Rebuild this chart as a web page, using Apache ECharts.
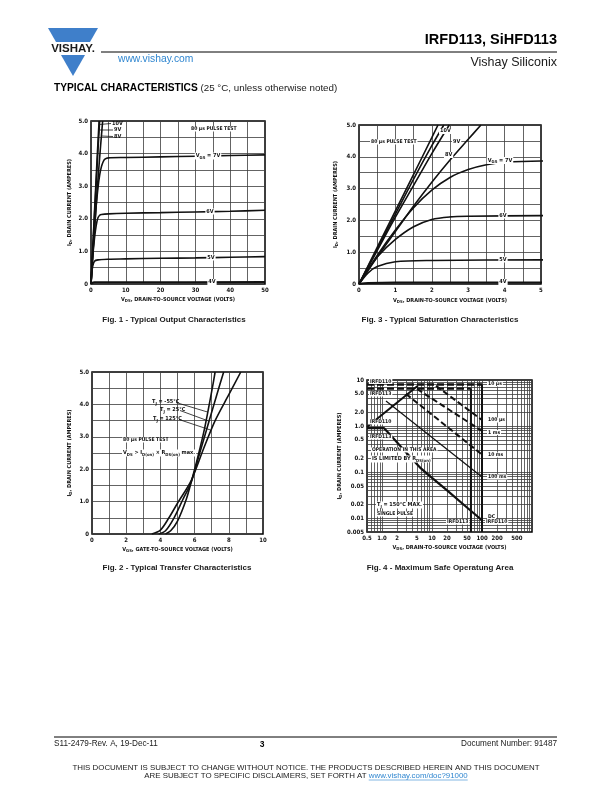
<!DOCTYPE html>
<html>
<head>
<meta charset="utf-8">
<script src="https://cdn.jsdelivr.net/npm/echarts@6/dist/echarts.min.js"></script>
<style>
  html, body { margin: 0; padding: 0; background: #fff; }
  #page { width: 612px; height: 792px; }
</style>
</head>
<body>
<div id="page"></div>
<script>
/* global echarts */

// ---- I_D vs V_DS (shared by Fig. 1, 0-50 V, and Fig. 3, 0-5 V) ----
const IDS_10V = [[0, 0], [0.5, 1.1], [1, 2.2], [1.5, 3.3], [2, 4.35], [2.33, 5.0]];
const IDS_9V  = [[0, 0], [0.5, 1.05], [1, 2.1], [1.5, 3.1], [2, 4.1], [2.48, 5.0]];
const IDS_8V  = [[0, 0], [0.5, 0.85], [1, 1.65], [1.5, 2.45], [2, 3.2], [2.5, 3.9], [3, 4.55], [3.35, 5.0]];
const IDS_7V  = [[0, 0], [0.5, 0.9], [1, 1.7], [1.5, 2.4], [2, 2.95], [2.5, 3.35], [3, 3.6], [3.5, 3.75], [4, 3.83], [5, 3.87], [10, 3.88], [20, 3.9], [30, 3.92], [40, 3.94], [50, 3.96]];
const IDS_6V  = [[0, 0], [0.25, 0.45], [0.5, 0.85], [1, 1.4], [1.5, 1.8], [2, 2.03], [2.5, 2.11], [3, 2.13], [5, 2.15], [10, 2.17], [20, 2.19], [30, 2.21], [40, 2.23], [50, 2.26]];
const IDS_5V  = [[0, 0], [0.25, 0.35], [0.5, 0.55], [1, 0.7], [2, 0.74], [5, 0.76], [10, 0.77], [20, 0.79], [30, 0.8], [40, 0.82], [50, 0.84]];
const IDS_4V  = [[0, 0], [0.25, 0.03], [1, 0.05], [10, 0.05], [50, 0.06]];
// leftmost line of Fig. 3 (its label is cut by the frame in the original)
const IDS_TOP = [[0, 0], [0.5, 1.15], [1, 2.3], [1.5, 3.45], [2, 4.6], [2.17, 5.0]];

// ---- Fig. 2: transfer characteristics ----
const XFER_M55C = [[4.3, 0], [4.6, 0.1], [5.0, 0.4], [5.5, 1.05], [5.8, 1.6], [6.2, 2.4], [6.6, 3.3], [7.0, 4.4], [7.2, 5.0]];
const XFER_25C  = [[3.9, 0], [4.3, 0.1], [4.8, 0.5], [5.3, 1.05], [5.8, 1.6], [6.3, 2.5], [6.8, 3.4], [7.3, 4.3], [7.7, 5.0]];
const XFER_125C = [[3.5, 0], [4.0, 0.12], [4.5, 0.5], [5.0, 0.95], [5.8, 1.65], [6.5, 2.6], [7.2, 3.5], [8.0, 4.3], [8.7, 5.0]];

// ---- Fig. 4: safe operating area (log-log) ----
const SOA_X_GRID = [0.5, 0.6, 0.7, 0.8, 0.9, 1, 2, 3, 4, 5, 6, 7, 8, 9, 10, 20, 30, 40, 50, 60, 70, 80, 90, 100, 200, 300, 400, 500, 600, 700, 800, 900, 1000];
const SOA_X_LABELS = [0.5, 1, 2, 5, 10, 20, 50, 100, 200, 500];
const SOA_Y_GRID = [0.005, 0.006, 0.007, 0.008, 0.009, 0.01, 0.02, 0.03, 0.04, 0.05, 0.06, 0.07, 0.08, 0.09, 0.1, 0.2, 0.3, 0.4, 0.5, 0.6, 0.7, 0.8, 0.9, 1, 2, 3, 4, 5, 6, 7, 8, 9, 10];
const SOA_Y_LABELS = [0.005, 0.01, 0.02, 0.05, 0.1, 0.2, 0.5, 1, 2, 5, 10];
const SOA_IDM_110 = [[0.5, 8.0], [100, 8.0]];
const SOA_IDM_113 = [[0.5, 6.5], [60, 6.5]];
const SOA_RDS_ON  = [[0.5, 0.95], [5.2, 7.5]];
const SOA_100US   = [[12, 7.5], [100, 1.35]];
const SOA_1MS     = [[5, 6.4], [100, 0.78]];
const SOA_10MS    = [[3, 5.0], [100, 0.24]];
const SOA_100MS   = [[1.2, 3.5], [100, 0.078]];
const SOA_DC      = [[0.5, 0.9], [1.1, 0.9], [1.5, 0.62], [3, 0.27], [6, 0.12], [10, 0.075], [20, 0.04], [50, 0.017], [100, 0.009]];
const SOA_BV_110  = [[100, 8.0], [100, 0.005]];
const SOA_BV_113  = [[60, 6.5], [60, 0.005]];

const FONT = '"Liberation Sans", Arial, sans-serif';
const CHART_FONT = '"Liberation Sans Narrow", "DejaVu Sans Condensed", "Liberation Sans", sans-serif';
const INK = '#111111';
const GRID_LINE = { lineStyle: { color: '#3c3c3c', width: 0.8 } };
const TICK = { fontFamily: CHART_FONT, fontSize: 6, fontWeight: 'bold', color: INK };
const RICH = {
  m: { fontFamily: CHART_FONT, fontSize: 5.5, fontWeight: 'bold', color: INK },
  s: { fontFamily: CHART_FONT, fontSize: 4.2, fontWeight: 'bold', color: INK, padding: [3, 0, 0, 0] },
};
const NAME_ID  = '{m|I}{s|D}{m|, DRAIN CURRENT (AMPERES)}';
const NAME_VDS = '{m|V}{s|DS}{m|, DRAIN-TO-SOURCE VOLTAGE (VOLTS)}';
const NAME_VGS = '{m|V}{s|GS}{m|, GATE-TO-SOURCE VOLTAGE (VOLTS)}';

const ampFmt = (v) => (v === 0 ? '0' : v.toFixed(1));
const isWhole = (v, step) => Math.abs(v / step - Math.round(v / step)) < 1e-6;

function linX(gi, max, interval, labelStep, name, gap) {
  return {
    gridIndex: gi, type: 'value', min: 0, max, interval,
    axisLine: { show: false }, axisTick: { show: false },
    splitLine: GRID_LINE,
    axisLabel: { ...TICK, margin: 3, formatter: (v) => (isWhole(v, labelStep) ? String(Math.round(v)) : '') },
    name, nameLocation: 'middle', nameGap: gap, nameTextStyle: { rich: RICH },
  };
}
function linY(gi, gap) {
  return {
    gridIndex: gi, type: 'value', min: 0, max: 5, interval: 0.5,
    axisLine: { show: false }, axisTick: { show: false },
    splitLine: GRID_LINE,
    axisLabel: { ...TICK, margin: 3, formatter: (v) => (isWhole(v, 1) ? ampFmt(v) : '') },
    name: NAME_ID, nameLocation: 'middle', nameGap: gap, nameTextStyle: { rich: RICH },
  };
}

function curve(gi, data, style, smooth = true) {
  return {
    type: 'line', xAxisIndex: gi, yAxisIndex: gi, data,
    symbol: 'none', showSymbol: false, silent: true,
    smooth: smooth ? 0.3 : false, clip: true,
    lineStyle: { color: INK, width: 1.6, ...(style || {}) },
    z: 3,
  };
}

// ---- text helpers for the page furniture ----
function txt(x, y, text, opt) {
  return {
    type: 'text', x, y, z: 100, silent: true,
    style: { text, fontFamily: CHART_FONT, fontSize: 5.5, fontWeight: 'bold', fill: INK, align: 'left', verticalAlign: 'middle', ...(opt || {}) },
  };
}
function tag(x, y, text, opt) {
  return txt(x, y, text, { backgroundColor: '#fff', padding: [0, 1], ...(opt || {}) });
}
function seg(x1, y1, x2, y2, w, color) {
  return { type: 'line', z: 90, silent: true, shape: { x1, y1, x2, y2 }, style: { stroke: color || INK, lineWidth: w || 0.8 } };
}
const measure = (() => {
  const ctx = document.createElement('canvas').getContext('2d');
  return (text, font) => { ctx.font = font; return ctx.measureText(text).width; };
})();

const BLUE = '#3f7fca';
const LINK = '#2f86d0';
const DISC_SIZE = 7.9;
const disc2a = 'ARE SUBJECT TO SPECIFIC DISCLAIMERS, SET FORTH AT ';
const disc2b = 'www.vishay.com/doc?91000';
const discFont = DISC_SIZE + 'px ' + FONT;
const wA = measure(disc2a, discFont);
const wB = measure(disc2b, discFont);
const disc2x = 306 - (wA + wB) / 2;

const graphic = [
  // logo
  { type: 'polygon', z: 100, shape: { points: [[48, 28], [98, 28], [90, 42], [56, 42]] }, style: { fill: BLUE } },
  { type: 'polygon', z: 100, shape: { points: [[61, 55], [85, 55], [73, 76]] }, style: { fill: BLUE } },
  txt(73, 48.5, 'VISHAY.', { fontFamily: FONT, fontSize: 11.5, fontWeight: 'bold', fill: '#1a1a1a', align: 'center' }),
  // header
  seg(101, 52, 557, 52, 1, '#000'),
  txt(557, 40, 'IRFD113, SiHFD113', { fontFamily: FONT, fontSize: 14.5, fontWeight: 'bold', fill: '#000', align: 'right' }),
  txt(557, 63, 'Vishay Siliconix', { fontFamily: FONT, fontSize: 12.5, fontWeight: 'normal', fill: '#1a1a1a', align: 'right' }),
  txt(118, 59.5, 'www.vishay.com', { fontFamily: FONT, fontSize: 10.3, fontWeight: 'normal', fill: LINK }),
  txt(54, 88, '{b|TYPICAL CHARACTERISTICS}{r| (25 °C, unless otherwise noted)}', {
    rich: {
      b: { fontFamily: FONT, fontSize: 10.2, fontWeight: 'bold', fill: '#000' },
      r: { fontFamily: FONT, fontSize: 9.8, fontWeight: 'normal', fill: '#1a1a1a' },
    },
  }),
  // captions
  txt(174, 320, 'Fig. 1 - Typical Output Characteristics', { fontFamily: FONT, fontSize: 8, align: 'center', fill: '#1a1a1a' }),
  txt(440, 320, 'Fig. 3 - Typical Saturation Characteristics', { fontFamily: FONT, fontSize: 8, align: 'center', fill: '#1a1a1a' }),
  txt(177, 568, 'Fig. 2 - Typical Transfer Characteristics', { fontFamily: FONT, fontSize: 8, align: 'center', fill: '#1a1a1a' }),
  txt(440, 568, 'Fig. 4 - Maximum Safe Operatung Area', { fontFamily: FONT, fontSize: 8, align: 'center', fill: '#1a1a1a' }),
  // footer
  seg(54, 737, 557, 737, 1, '#000'),
  txt(54, 744, 'S11-2479-Rev. A, 19-Dec-11', { fontFamily: FONT, fontSize: 8.2, fontWeight: 'normal', fill: '#1a1a1a' }),
  txt(262, 744.5, '3', { fontFamily: FONT, fontSize: 8.5, fontWeight: 'bold', fill: '#000', align: 'center' }),
  txt(557, 744, 'Document Number: 91487', { fontFamily: FONT, fontSize: 8.2, fontWeight: 'normal', fill: '#1a1a1a', align: 'right' }),
  txt(306, 767.5, 'THIS DOCUMENT IS SUBJECT TO CHANGE WITHOUT NOTICE. THE PRODUCTS DESCRIBED HEREIN AND THIS DOCUMENT', { fontFamily: FONT, fontSize: DISC_SIZE, fontWeight: 'normal', fill: '#1a1a1a', align: 'center' }),
  txt(disc2x, 775.5, disc2a, { fontFamily: FONT, fontSize: DISC_SIZE, fontWeight: 'normal', fill: '#1a1a1a' }),
  txt(disc2x + wA, 775.5, disc2b, { fontFamily: FONT, fontSize: DISC_SIZE, fontWeight: 'normal', fill: LINK }),
  seg(disc2x + wA, 780, disc2x + wA + wB, 780, 0.6, LINK),

  // Fig. 1 annotations
  txt(112, 123.5, '10V'), txt(114, 130, '9V'), txt(114, 136.5, '8V'),
  seg(111, 123.5, 99.5, 124.5), seg(113, 130, 100, 130), seg(113, 136.5, 101.5, 136),
  tag(190, 129, '80 µs PULSE TEST', { fontSize: 5 }),
  tag(208, 156, '{m|V}{s|GS}{m| = 7V}', { rich: RICH, align: 'center' }),
  tag(210, 211.5, '6V', { align: 'center' }),
  tag(211, 257.5, '5V', { align: 'center' }),
  tag(212, 282, '4V', { align: 'center' }),

  // Fig. 3 annotations
  tag(439, 131, '10V'), tag(452, 141.5, '9V'), tag(444, 155, '8V'),
  tag(370, 142, '80 µs PULSE TEST', { fontSize: 5 }),
  tag(500, 160.5, '{m|V}{s|GS}{m| = 7V}', { rich: RICH, align: 'center' }),
  tag(503, 215.5, '6V', { align: 'center' }),
  tag(503, 259.5, '5V', { align: 'center' }),
  tag(503, 282, '4V', { align: 'center' }),

  // Fig. 2 annotations
  txt(152, 402, '{m|T}{s|J}{m| = -55°C}', { rich: RICH }),
  txt(160, 410, '{m|T}{s|J}{m| = 25°C}', { rich: RICH }),
  txt(153, 419, '{m|T}{s|J}{m| = 125°C}', { rich: RICH }),
  seg(176, 402.5, 207.5, 412), seg(180, 410.5, 208.5, 421), seg(179, 419.5, 210.5, 430),
  tag(122, 440, '80 µs PULSE TEST', { fontSize: 5 }),
  tag(122, 453, '{m|V}{s|DS}{m| > I}{s|D(on)}{m| × R}{s|DS(on)}{m| max.}', { rich: RICH }),

  // Fig. 4 annotations
  tag(369, 381.5, 'IRFD110', { fontSize: 5 }), tag(369, 394, 'IRFD113', { fontSize: 5 }),
  tag(369, 422, 'IRFD110', { fontSize: 5 }), tag(369, 437, 'IRFD113', { fontSize: 5 }),
  tag(487, 384, '10 µs', { fontSize: 5 }), tag(487, 420, '100 µs', { fontSize: 5 }), tag(487, 432.5, '1 ms', { fontSize: 5 }),
  tag(487, 455, '10 ms', { fontSize: 5 }), tag(487, 477, '100 ms', { fontSize: 5 }), tag(487, 517, 'DC', { fontSize: 5 }),
  tag(371, 450, 'OPERATION IN THIS AREA', { fontSize: 5 }),
  tag(371, 459, '{m|IS LIMITED BY R}{s|DS(on)}', { rich: RICH }),
  tag(376, 505, '{m|T}{s|J}{m| = 150°C MAX.}', { rich: RICH }),
  tag(376, 514, 'SINGLE PULSE', { fontSize: 5 }),
  tag(446, 522, 'IRFD113', { fontSize: 5 }), tag(485, 522, 'IRFD110', { fontSize: 5 }),
];

const soaFmtX = (v) => (v === 0.5 ? '0.5' : v === 1 ? '1.0' : String(v));
const soaFmtY = (v) => (v >= 1 && v < 10 ? v.toFixed(1) : String(v));

const option = {
  animation: false,
  backgroundColor: '#fff',
  textStyle: { fontFamily: CHART_FONT },
  grid: [
    { left: 91, top: 121, width: 174, height: 163, show: true, borderColor: '#000', borderWidth: 1.5, backgroundColor: 'transparent' },
    { left: 359, top: 125, width: 182, height: 159, show: true, borderColor: '#000', borderWidth: 1.5, backgroundColor: 'transparent' },
    { left: 92, top: 372, width: 171, height: 162, show: true, borderColor: '#000', borderWidth: 1.5, backgroundColor: 'transparent' },
    { left: 367, top: 380, width: 165, height: 152, show: true, borderColor: '#000', borderWidth: 1.5, backgroundColor: 'transparent' },
  ],
  xAxis: [
    linX(0, 50, 5, 10, NAME_VDS, 12),
    linX(1, 5, 0.5, 1, NAME_VDS, 13),
    linX(2, 10, 1, 2, NAME_VGS, 12),
    {
      gridIndex: 3, type: 'log', logBase: 10, min: 0.5, max: 1000,
      axisLine: { show: false },
      axisTick: { show: false, customValues: SOA_X_GRID },
      splitLine: GRID_LINE,
      axisLabel: { ...TICK, margin: 3, customValues: SOA_X_LABELS, formatter: soaFmtX },
      name: NAME_VDS, nameLocation: 'middle', nameGap: 12, nameTextStyle: { rich: RICH },
    },
  ],
  yAxis: [
    linY(0, 18),
    linY(1, 20),
    linY(2, 19),
    {
      gridIndex: 3, type: 'log', logBase: 10, min: 0.005, max: 10,
      axisLine: { show: false },
      axisTick: { show: false, customValues: SOA_Y_GRID },
      splitLine: GRID_LINE,
      axisLabel: { ...TICK, margin: 3, customValues: SOA_Y_LABELS, formatter: soaFmtY },
      name: NAME_ID, nameLocation: 'middle', nameGap: 21, nameTextStyle: { rich: RICH },
    },
  ],
  series: [
    // Fig. 1
    curve(0, IDS_10V), curve(0, IDS_9V), curve(0, IDS_8V), curve(0, IDS_7V),
    curve(0, IDS_6V), curve(0, IDS_5V), curve(0, IDS_4V, { width: 2 }),
    // Fig. 3
    curve(1, IDS_TOP), curve(1, IDS_10V), curve(1, IDS_9V), curve(1, IDS_8V), curve(1, IDS_7V),
    curve(1, IDS_6V), curve(1, IDS_5V), curve(1, IDS_4V, { width: 2 }),
    // Fig. 2
    curve(2, XFER_M55C), curve(2, XFER_25C), curve(2, XFER_125C),
    // Fig. 4
    curve(3, SOA_IDM_110, { width: 2.4, type: [7, 3] }, false),
    curve(3, SOA_IDM_113, { width: 2.4, type: [7, 3] }, false),
    curve(3, SOA_RDS_ON, { width: 2 }, false),
    curve(3, SOA_100US, { width: 2, type: [6, 3] }, false),
    curve(3, SOA_1MS, { width: 2, type: [6, 3] }, false),
    curve(3, SOA_10MS, { width: 2, type: [6, 3] }, false),
    curve(3, SOA_100MS, { width: 1.2 }, false),
    curve(3, SOA_DC, { width: 2.2 }, false),
    curve(3, SOA_BV_110, { width: 2 }, false),
    curve(3, SOA_BV_113, { width: 2 }, false),
  ],
  graphic,
};

const chart = echarts.init(document.getElementById('page'), null, { renderer: 'canvas' });
chart.setOption(option);
</script>
</body>
</html>
